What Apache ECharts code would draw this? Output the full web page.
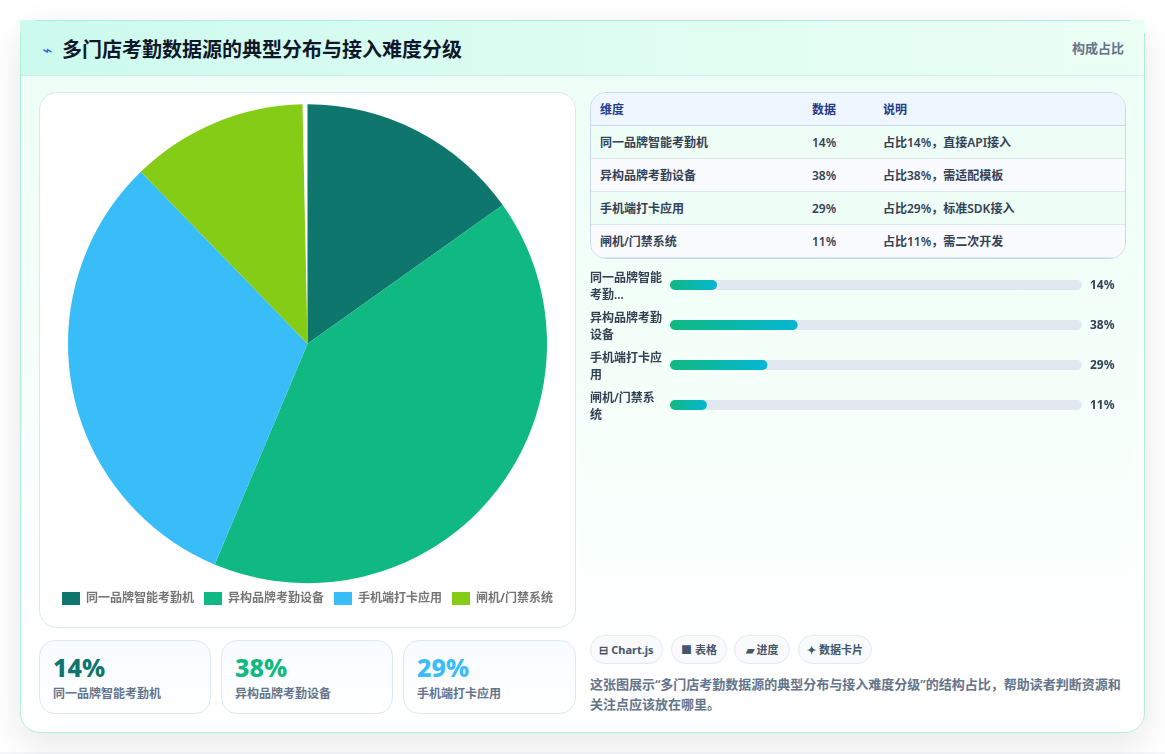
<!DOCTYPE html>
<html lang="zh-CN">
<head>
<meta charset="utf-8">
<title>多门店考勤数据源的典型分布与接入难度分级</title>
<script src="https://cdn.jsdelivr.net/npm/echarts@6/dist/echarts.min.js"></script>
<style>
  html, body { margin: 0; width: 1165px; height: 754px; overflow: hidden; background: #fff; }
  body { position: relative; font-family: "Noto Sans", "Noto Sans CJK SC", sans-serif; color: #334155; }
  .abs, .abs * { box-sizing: border-box; }
  .abs { position: absolute; }
  #foot { left: 0; top: 752px; width: 1165px; height: 2px; background: #f6f7fb; }
  #card { left: 20px; top: 20px; width: 1125px; height: 713px; border: 1px solid #aeeedd; border-radius: 20px;
          background: linear-gradient(180deg, #ebfff5 0%, #f8fffc 60%, #ffffff 88%);
          box-shadow: 0 12px 36px rgba(15, 23, 42, .10); }
  #head { left: 20px; top: 20px; width: 1125px; height: 56px; background: linear-gradient(90deg, #cdfaee 0%, #ecfff5 100%);
          border-bottom: 1px solid #cfeee8; }
  .edge { background: #aeeedd; }
  #bolt { left: 39px; top: 38px; width: 16px; font: 17px/24px "DejaVu Sans"; color: #2563eb; text-align: center; }
  #title { left: 62px; top: 35px; font-size: 20px; line-height: 30px; font-weight: 700; color: #0f172a; white-space: nowrap; }
  #kind { left: 1072px; top: 38px; font-size: 13px; line-height: 20px; font-weight: 700; color: #64748b; white-space: nowrap; }
  #pane { left: 580px; top: 88px; width: 552px; height: 488px; background: rgba(240, 255, 248, .15); }
  #pieCard { left: 39px; top: 92px; width: 537px; height: 536px; background: #fff; border: 1px solid #dbe9f0; border-radius: 18px; }
  .stat { top: 640px; height: 74px; border: 1px solid #dbe8f6; border-radius: 16px; background: linear-gradient(180deg, #f8fbff, #ffffff); }
  .stat b { position: absolute; left: 13px; top: 8px; font-size: 25px; line-height: 36px; font-weight: 800; }
  .stat span { position: absolute; left: 13px; top: 44px; font-size: 12px; line-height: 18px; font-weight: 600; color: #64748b; white-space: nowrap; }
  #table { left: 590px; top: 92px; width: 536px; height: 167px; border: 1px solid #c9d8ea; border-radius: 16px; overflow: hidden; background: #fff; }
  .row { position: absolute; left: 0; width: 100%; height: 33px; border-bottom: 1px solid #dbe6ee; font-size: 12px; line-height: 34px; font-weight: 600; color: #334155; }
  .row span { position: absolute; top: 0; white-space: nowrap; }
  .row.hd { background: #eef6ff; color: #1e3a8a; border-bottom-color: #c9d8ea; font-weight: 700; }
  .row.odd { background: #eefdf6; }
  .row.even { background: #fafbff; }
  .chip { top: 635px; height: 29px; border: 1px solid #e5e9f0; border-radius: 15px; background: #f8fafc;
          font-size: 11px; line-height: 27px; font-weight: 700; color: #475569; text-align: center; white-space: nowrap; }
  #note { left: 590px; top: 674px; width: 536px; font-size: 13px; line-height: 20px; font-weight: 600; color: #64748b; }
  #chart { left: 0; top: 0; width: 1165px; height: 754px; }
</style>
</head>
<body>
<div class="abs" id="foot"></div>
<div class="abs" id="card"></div>
<div class="abs" id="head"></div>
<div class="abs edge" style="left:35px;top:20px;width:1095px;height:1px"></div>
<div class="abs edge" style="left:20px;top:33px;width:1px;height:43px"></div>
<div class="abs edge" style="left:1144px;top:33px;width:1px;height:43px"></div>
<div class="abs" id="bolt">⌁</div>
<div class="abs" id="title"></div>
<div class="abs" id="kind">构成占比</div>
<div class="abs" id="pane"></div>
<div class="abs" id="pieCard"></div>
<div class="abs" id="table"></div>
<div id="stats"></div>
<div id="chips"></div>
<div class="abs" id="note"></div>
<div class="abs" id="chart"></div>

<script>
const chartTitle = '多门店考勤数据源的典型分布与接入难度分级';
const categories = ['同一品牌智能考勤机', '异构品牌考勤设备', '手机端打卡应用', '闸机/门禁系统'];
const shares = [14, 38, 29, 11];
const notes = ['直接API接入', '需适配模板', '标准SDK接入', '需二次开发'];
const palette = ['#0f766e', '#10b981', '#38bdf8', '#84cc16'];
const barTickLabels = ['同一品牌智能\n考勤...', '异构品牌考勤\n设备', '手机端打卡应\n用', '闸机/门禁系\n统'];
const tableHead = ['维度', '数据', '说明'];
const chipLabels = ['⊟ Chart.js', '■ 表格', '▰ 进度', '✦ 数据卡片'];
const cjkComma = '\uFF0C';
const summary = '这张图展示“' + chartTitle + '”的结构占比' + cjkComma + '帮助读者判断资源和关注点应该放在哪里。';

document.getElementById('title').textContent = chartTitle;
document.getElementById('note').textContent = summary;

// Table rows
const table = document.getElementById('table');
const colX = [9, 221, 292];
function addRow(cells, cls, top) {
  const row = document.createElement('div');
  row.className = 'row ' + cls;
  row.style.top = top + 'px';
  cells.forEach((text, i) => {
    const s = document.createElement('span');
    s.style.left = colX[i] + 'px';
    s.textContent = text;
    row.appendChild(s);
  });
  table.appendChild(row);
}
addRow(tableHead, 'hd', 0);
categories.forEach((name, i) => {
  addRow([name, shares[i] + '%', '占比' + shares[i] + '%' + cjkComma + notes[i]], i % 2 ? 'even' : 'odd', 33 * (i + 1));
});

// Three headline cards
const statX = [39, 221, 403];
const statW = [172, 172, 173];
statX.forEach((x, i) => {
  const c = document.createElement('div');
  c.className = 'abs stat';
  c.style.left = x + 'px';
  c.style.width = statW[i] + 'px';
  c.innerHTML = '<b style="color:' + palette[i] + '">' + shares[i] + '%</b><span>' + categories[i] + '</span>';
  document.getElementById('stats').appendChild(c);
});

// Tag chips
const chipX = [590, 671, 734, 798];
const chipW = [73, 56, 56, 74];
chipLabels.forEach((text, i) => {
  const c = document.createElement('div');
  c.className = 'abs chip';
  c.style.left = chipX[i] + 'px';
  c.style.width = chipW[i] + 'px';
  c.textContent = text;
  document.getElementById('chips').appendChild(c);
});

// Pie, legend and progress bars share one chart instance.
// The tick labels sit on their own grids so they can be nudged independently of the bars.
const chart = echarts.init(document.getElementById('chart'), null, { renderer: 'canvas' });
const fontFamily = '"Noto Sans", "Noto Sans CJK SC", sans-serif';
const hiddenAxis = { axisLine: { show: false }, axisTick: { show: false } };
chart.setOption({
  animation: false,
  backgroundColor: 'transparent',
  textStyle: { fontFamily },
  legend: {
    left: 62,
    top: 592,
    padding: 0,
    itemWidth: 18,
    itemHeight: 13,
    itemGap: 10,
    icon: 'rect',
    data: categories,
    textStyle: { fontSize: 12, fontWeight: 700, color: '#757575', padding: [0, 0, 0, 1] }
  },
  grid: [
    { left: 670, top: 265, width: 412, height: 160 },
    { left: 670, top: 267.5, width: 412, height: 160 },
    { left: 670, top: 266, width: 412, height: 160 }
  ],
  xAxis: [
    { gridIndex: 0, type: 'value', min: 0, max: 122.6, show: false },
    { gridIndex: 1, type: 'value', min: 0, max: 122.6, show: false },
    { gridIndex: 2, type: 'value', min: 0, max: 122.6, show: false }
  ],
  yAxis: [
    {
      gridIndex: 0,
      type: 'category',
      inverse: true,
      data: categories,
      ...hiddenAxis,
      axisLabel: { show: false }
    },
    {
      gridIndex: 1,
      type: 'category',
      inverse: true,
      data: barTickLabels,
      ...hiddenAxis,
      axisLabel: { align: 'left', margin: 80, fontSize: 12, lineHeight: 17, fontWeight: 600, color: '#334155' }
    },
    {
      gridIndex: 2,
      type: 'category',
      position: 'right',
      inverse: true,
      data: shares.map(v => v + '%'),
      ...hiddenAxis,
      axisLabel: { align: 'left', margin: 8, fontSize: 12, fontWeight: 700, color: '#334155' }
    }
  ],
  series: [
    {
      type: 'pie',
      center: [307.5, 343.8],
      radius: [0, 239.5],
      startAngle: 90,
      endAngle: -268.8,
      clockwise: true,
      label: { show: false },
      labelLine: { show: false },
      silent: true,
      data: categories.map((name, i) => ({ name, value: shares[i], itemStyle: { color: palette[i] } }))
    },
    {
      type: 'bar',
      xAxisIndex: 0,
      yAxisIndex: 0,
      barWidth: 10,
      showBackground: true,
      backgroundStyle: { color: '#e2e8f0', borderRadius: 5 },
      itemStyle: {
        borderRadius: 5,
        color: new echarts.graphic.LinearGradient(0, 0, 1, 0, [
          { offset: 0, color: '#10b981' },
          { offset: 1, color: '#06b6d4' }
        ])
      },
      data: shares
    },
    // Empty series keep the label-only grids active
    { type: 'bar', xAxisIndex: 1, yAxisIndex: 1, data: [] },
    { type: 'bar', xAxisIndex: 2, yAxisIndex: 2, data: [] }
  ]
});
</script>
</body>
</html>
